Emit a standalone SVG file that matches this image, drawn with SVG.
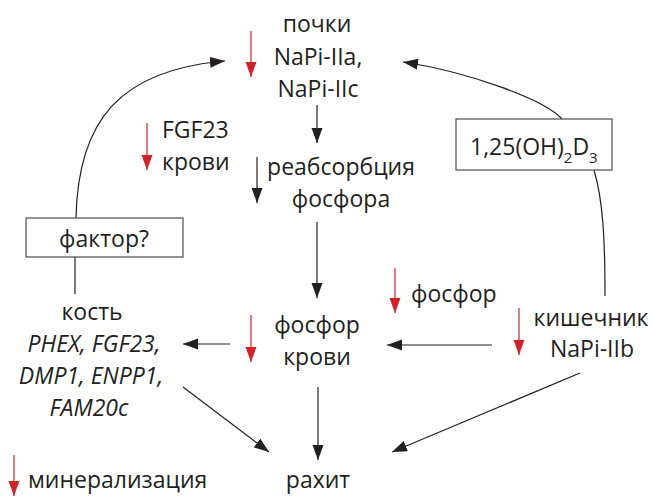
<svg xmlns="http://www.w3.org/2000/svg" width="653" height="497" viewBox="0 0 653 497">
<defs>
<style>
text{font-family:"Open Sans","Noto Sans","Liberation Sans",sans-serif;font-size:23px;fill:#231f20}
.m{text-anchor:middle}
.i{font-style:italic}
.c{fill:none;stroke:#231f20;stroke-width:1.2}
.r{fill:none;stroke:#d2232a;stroke-width:1.2}
.box{fill:#fff;stroke:#4d4d4f;stroke-width:1.2}
</style>
<marker id="ah" markerUnits="userSpaceOnUse" markerWidth="16" markerHeight="12" refX="15" refY="5.5" orient="auto">
<path d="M0,0 L15,5.5 L0,11 z" fill="#231f20"/>
</marker>
<marker id="rh" markerUnits="userSpaceOnUse" markerWidth="16" markerHeight="12" refX="15" refY="5.5" orient="auto">
<path d="M0,0 L15,5.5 L0,11 z" fill="#d2232a"/>
</marker>
</defs>
<rect width="653" height="497" fill="#fff"/>

<g id="connectors">
<path class="c" d="M317,105 L317,143" marker-end="url(#ah)"/>
<path class="c" d="M257,157 L257,203" marker-end="url(#ah)"/>
<path class="c" d="M317,222 L317,298" marker-end="url(#ah)"/>
<path class="c" d="M230,344 L183,344" marker-end="url(#ah)"/>
<path class="c" d="M492,345 L387,345" marker-end="url(#ah)"/>
<path class="c" d="M183,387 L269,452" marker-end="url(#ah)"/>
<path class="c" d="M318,387 L318,460" marker-end="url(#ah)"/>
<path class="c" d="M580,373 L392,452" marker-end="url(#ah)"/>
<path class="c" d="M76,218 C78,120 120,70 225,61" marker-end="url(#ah)"/>
<path class="c" d="M562,119 C545,100 470,72 403,62" marker-end="url(#ah)"/>
<path class="c" d="M75,257 L75,294"/>
<path class="c" d="M594,170 C603,200 605,240 605,296"/>
<path class="r" d="M251,31 L251,77" marker-end="url(#rh)"/>
<path class="r" d="M147,123 L147,170" marker-end="url(#rh)"/>
<path class="r" d="M395,268 L395,313" marker-end="url(#rh)"/>
<path class="r" d="M251,315 L251,362" marker-end="url(#rh)"/>
<path class="r" d="M519,308 L519,355" marker-end="url(#rh)"/>
<path class="r" d="M14,455 L14,496" marker-end="url(#rh)"/>
</g>

<g id="kidney">
<text class="m" x="317" y="32">почки</text>
<text class="m" x="318" y="65">NaPi-IIa,</text>
<text class="m" x="318" y="97">NaPi-IIc</text>
</g>

<g id="fgf23">
<text x="162" y="138">FGF23</text>
<text x="162" y="170">крови</text>
</g>

<g id="reabsorption">
<text class="m" x="341" y="175">реабсорбция</text>
<text class="m" x="341" y="207">фосфора</text>
</g>

<g id="vitd">
<rect class="box" x="456" y="119" width="156" height="51"/>
<text x="470" y="155">1,25(OH)<tspan y="163" font-size="15">2</tspan><tspan y="155">D</tspan><tspan y="163" font-size="15">3</tspan></text>
</g>

<g id="factor">
<rect class="box" x="26" y="218" width="157" height="39"/>
<text class="m" x="104" y="247">фактор?</text>
</g>

<g id="phosphate-red">
<text x="411" y="302">фосфор</text>
</g>

<g id="blood-phosphate">
<text class="m" x="317" y="333">фосфор</text>
<text class="m" x="317" y="365">крови</text>
</g>

<g id="intestine">
<text class="m" x="591" y="326">кишечник</text>
<text class="m" x="592" y="357">NaPi-IIb</text>
</g>

<g id="bone">
<text class="m" x="92" y="320">кость</text>
<text class="m i" x="94" y="352">PHEX, FGF23,</text>
<text class="m i" x="91" y="384">DMP1, ENPP1,</text>
<text class="m i" x="89" y="416">FAM20c</text>
</g>

<g id="mineralization">
<text x="28" y="488">минерализация</text>
</g>

<g id="rickets">
<text class="m" x="318" y="488">рахит</text>
</g>
</svg>
